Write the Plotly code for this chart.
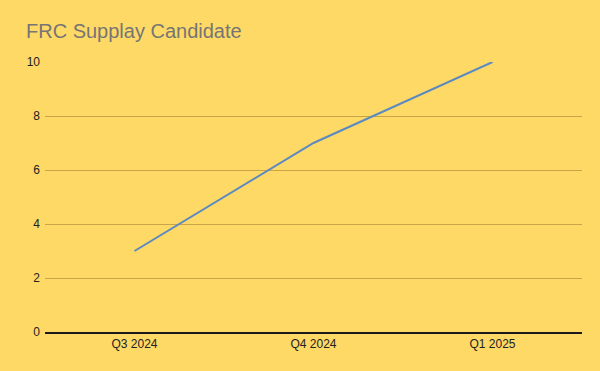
import plotly.graph_objects as go

categories = ["Q3 2024", "Q4 2024", "Q1 2025"]
values = [3, 7, 10]
y_ticks = [0, 2, 4, 6, 8, 10]

fig = go.Figure()
fig.add_trace(go.Scatter(
    x=categories, y=values, mode="lines",
    line=dict(color="#5b89c2", width=2),
    hoverinfo="skip",
))

fig.update_layout(
    width=600, height=371,
    margin=dict(l=45, r=18, t=62, b=39),
    paper_bgcolor="#ffd966",
    plot_bgcolor="#ffd966",
    showlegend=False,
    font=dict(family="Liberation Sans, Arial, sans-serif", size=12, color="#222222"),
    title=dict(
        text="FRC Supplay Candidate",
        x=26/600, xanchor="left", xref="container",
        y=1 - 31/371, yanchor="middle", yref="container",
        font=dict(size=20, color="#757575", family="Liberation Sans, Arial, sans-serif"),
    ),
)
fig.update_xaxes(
    type="category", range=[-0.5, 2.5],
    showgrid=False, showline=True, linecolor="#1a1a1a", linewidth=1.5,
    ticks="", tickfont=dict(size=12, color="#222222"),
)
fig.update_yaxes(
    range=[0, 10], tickvals=y_ticks,
    showgrid=True, gridcolor="#c9a54a", gridwidth=1,
    zeroline=False, showline=False, ticks="", ticklabelstandoff=4,
    tickfont=dict(size=12, color="#222222"),
)

fig.write_html("out.html")
